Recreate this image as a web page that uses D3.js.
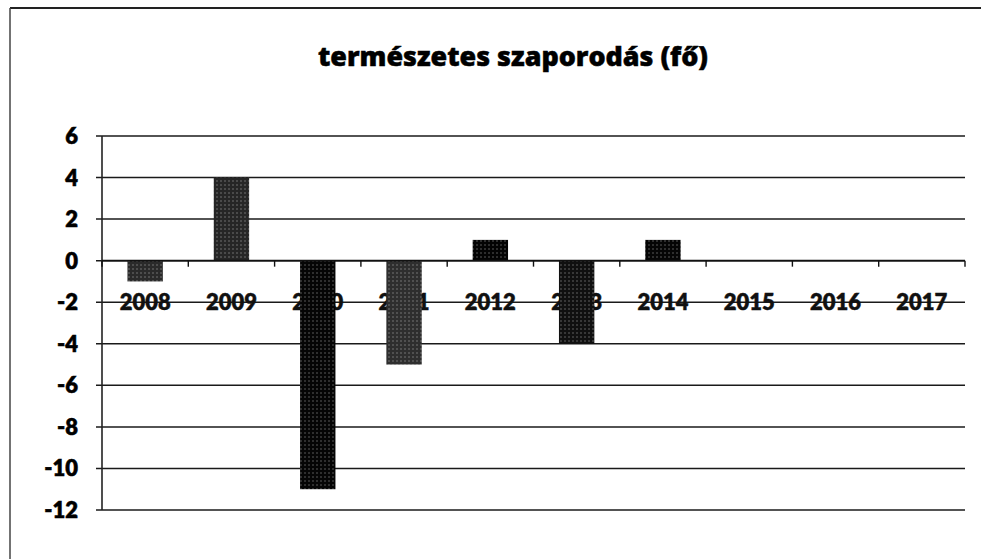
<!DOCTYPE html>
<html>
<head>
<meta charset="utf-8">
<script src="https://cdn.jsdelivr.net/npm/d3@7"></script>
<style>
body{margin:0;background:#fff}
</style>
</head>
<body>
<div id="chart"></div>
<script>
var years = ["2008","2009","2010","2011","2012","2013","2014","2015","2016","2017"]
var values = [-1,4,-11,-5,1,-4,1,0,0,0]
var yTicks = [6,4,2,0,-2,-4,-6,-8,-10,-12]
var title = "természetes szaporodás (fő)"

// shading of each bar (scanned stipple look)
var shades = ["#2a2a2a","#262626","#050505","#2e2e2e","#030303","#101010","#050505","#000","#000","#000"]

var w = 981
var h = 559
var plotL = 102, plotR = 965, plotT = 136, plotB = 510

draw()

function draw(){
	var svg = d3.select("#chart").append("svg").attr("width",w).attr("height",h)

	var defs = svg.append("defs")
	shades.forEach(function(c,i){
		var p = defs.append("pattern").attr("id","dots"+i).attr("width",4).attr("height",4)
			.attr("patternUnits","userSpaceOnUse")
		p.append("rect").attr("width",4).attr("height",4).attr("fill",c)
		p.append("circle").attr("cx",1).attr("cy",1).attr("r",0.7).attr("fill","#fff").attr("opacity",0.45)
	})

	// frame
	svg.append("line").attr("x1",10).attr("x2",w).attr("y1",8).attr("y2",8).attr("stroke","#222").attr("stroke-width",2)
	svg.append("line").attr("x1",10).attr("x2",10).attr("y1",8).attr("y2",h).attr("stroke","#444").attr("stroke-width",1.5)

	var x = d3.scaleBand().domain(years).range([plotL,plotR]).paddingInner(0.59).paddingOuter(0.295)
	var xOuter = d3.scaleBand().domain(years).range([plotL,plotR])
	var y = d3.scaleLinear().domain([-12,6]).range([plotB,plotT])

	svg.append("text").text(title)
		.attr("x",318).attr("y",66)
		.attr("textLength",390).attr("lengthAdjust","spacingAndGlyphs")
		.style("font-family","'Open Sans', Lato, sans-serif")
		.style("font-weight",800)
		.style("font-size","27px")
		.attr("fill","#000").attr("stroke","#000").attr("stroke-width",0.5)

	// gridlines
	svg.selectAll(".grid").data(yTicks).enter().append("line")
		.attr("class","grid")
		.attr("x1",plotL-6).attr("x2",plotR)
		.attr("y1",function(d){return y(d)}).attr("y2",function(d){return y(d)})
		.attr("stroke","#1a1a1a").attr("stroke-width",1.5)

	// y labels
	svg.selectAll(".ylab").data(yTicks).enter().append("text")
		.attr("class","ylab")
		.text(function(d){return d})
		.attr("x",78).attr("y",function(d){return y(d)+8})
		.attr("text-anchor","end")
		.style("font-family","Lato, sans-serif").style("font-weight",800).style("font-size","22px")
		.attr("fill","#000").attr("stroke","#000").attr("stroke-width",0.5)

	// y axis line
	svg.append("line").attr("x1",plotL).attr("x2",plotL).attr("y1",plotT).attr("y2",plotB)
		.attr("stroke","#222").attr("stroke-width",1.6)

	// x labels, sitting on the -2 line
	svg.selectAll(".xlab").data(years).enter().append("text")
		.attr("class","xlab")
		.text(function(d){return d})
		.attr("x",function(d){return xOuter(d)+xOuter.bandwidth()/2})
		.attr("y",y(-2)+8)
		.attr("text-anchor","middle")
		.style("font-family","Lato, sans-serif").style("font-weight",800).style("font-size","22px")
		.attr("fill","#111").attr("stroke","#111").attr("stroke-width",0.4)

	// bars
	svg.selectAll(".bar").data(values).enter().append("rect")
		.attr("class","bar")
		.attr("x",function(d,i){return x(years[i])})
		.attr("width",x.bandwidth())
		.attr("y",function(d){return y(Math.max(0,d))})
		.attr("height",function(d){return Math.abs(y(d)-y(0))})
		.attr("fill",function(d,i){return "url(#dots"+i+")"})

	// zero axis with ticks
	svg.append("line").attr("x1",plotL).attr("x2",plotR).attr("y1",y(0)).attr("y2",y(0))
		.attr("stroke","#111").attr("stroke-width",1.6)
	var tickPos = years.map(function(d){return xOuter(d)}).concat([plotR])
	svg.selectAll(".xtick").data(tickPos).enter().append("line")
		.attr("class","xtick")
		.attr("x1",function(d){return d}).attr("x2",function(d){return d})
		.attr("y1",y(0)).attr("y2",y(0)+6)
		.attr("stroke","#111").attr("stroke-width",1.4)
}
</script>
</body>
</html>
